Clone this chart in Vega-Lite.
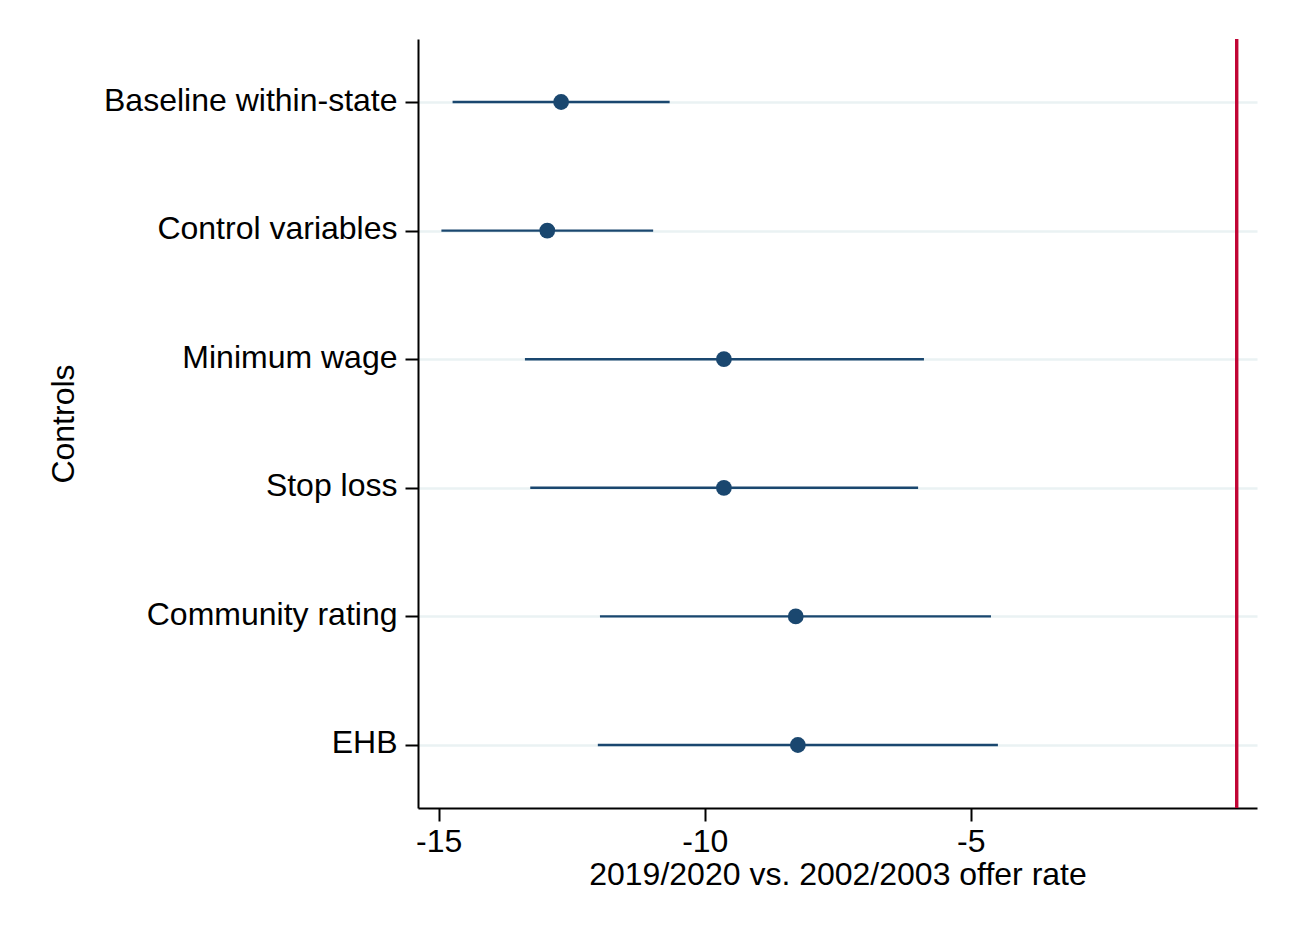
{
  "$schema": "https://vega.github.io/schema/vega-lite/v6.json",
  "autosize": "none",
  "width": 839,
  "height": 769,
  "padding": {"left": 418, "top": 39, "right": 36, "bottom": 123},
  "background": "white",
  "data": {
    "values": [
      {"control": "Baseline within-state", "estimate": -12.70, "lo": -14.74, "hi": -10.66},
      {"control": "Control variables", "estimate": -12.96, "lo": -14.95, "hi": -10.97},
      {"control": "Minimum wage", "estimate": -9.64, "lo": -13.38, "hi": -5.88},
      {"control": "Stop loss", "estimate": -9.64, "lo": -13.28, "hi": -5.99},
      {"control": "Community rating", "estimate": -8.29, "lo": -11.97, "hi": -4.62},
      {"control": "EHB", "estimate": -8.25, "lo": -12.01, "hi": -4.49}
    ]
  },
  "config": {
    "view": {"stroke": null},
    "font": "Liberation Sans",
    "axis": {
      "domainColor": "black",
      "domainWidth": 2,
      "tickColor": "black",
      "tickWidth": 2,
      "tickSize": 13,
      "labelFont": "Liberation Sans",
      "labelFontSize": 32,
      "labelColor": "black",
      "labelLimit": 600,
      "titleFont": "Liberation Sans",
      "titleFontSize": 32,
      "titleFontWeight": "normal",
      "titleColor": "black"
    }
  },
  "encoding": {
    "y": {
      "field": "control",
      "type": "nominal",
      "sort": null,
      "scale": {"type": "point", "padding": 0.49},
      "axis": {
        "title": "Controls",
        "labelPadding": 8,
        "labelOffset": -2,
        "titleX": -345,
        "titleBaseline": "alphabetic",
        "grid": true,
        "gridColor": "#eaf2f3",
        "gridWidth": 2.5
      }
    }
  },
  "layer": [
    {
      "mark": {"type": "rule", "color": "#c10534", "strokeWidth": 2.6},
      "encoding": {
        "y": null,
        "x": {"datum": 0, "type": "quantitative"}
      }
    },
    {
      "mark": {"type": "rule", "color": "#1a476f", "strokeWidth": 2.4},
      "encoding": {
        "x": {
          "field": "lo",
          "type": "quantitative",
          "scale": {"domain": [-15.39, 0.38], "nice": false, "zero": false},
          "axis": {
            "title": "2019/2020 vs. 2002/2003 offer rate",
            "values": [-15, -10, -5],
            "labelExpr": "'' + datum.value",
            "grid": false,
            "labelPadding": 5,
            "titlePadding": 2,
            "labelFlush": false
          }
        },
        "x2": {"field": "hi"}
      }
    },
    {
      "mark": {"type": "point", "filled": true, "opacity": 1, "color": "#1a476f", "size": 250},
      "encoding": {
        "x": {"field": "estimate", "type": "quantitative"}
      }
    }
  ]
}
